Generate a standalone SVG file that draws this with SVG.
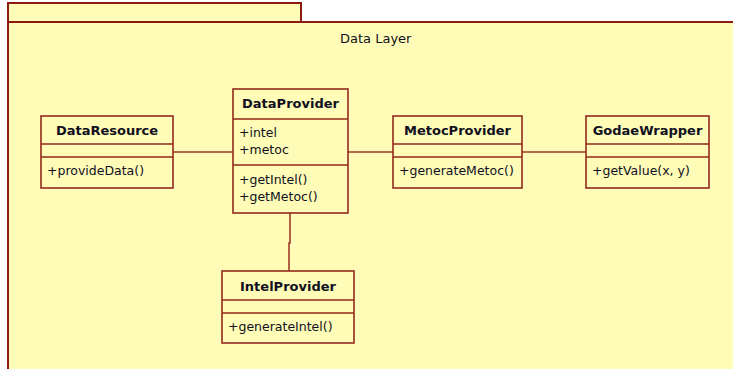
<svg xmlns="http://www.w3.org/2000/svg" width="733" height="369" viewBox="0 0 733 369">
  <style>
    .pkg { fill: #FFFCB8; stroke: #8B1A10; stroke-width: 2; }
    .box { fill: #FFFCB8; stroke: #93291C; stroke-width: 1.6; }
    .sep { stroke: #93291C; stroke-width: 1.6; }
    .conn { fill: none; stroke: #A03A2A; stroke-width: 1.6; }
    .name { font-family: "DejaVu Sans", Verdana, sans-serif; font-size: 13px; font-weight: bold; fill: #101020; text-anchor: middle; }
    .member { font-family: "DejaVu Sans", Verdana, sans-serif; font-size: 12.5px; fill: #101020; }
    .title { font-family: "DejaVu Sans", Verdana, sans-serif; font-size: 13px; fill: #101020; }
  </style>

  <!-- package frame -->
  <g id="package-data-layer">
    <rect class="pkg" x="8" y="3" width="293" height="19"/>
    <rect class="pkg" x="8" y="22" width="740" height="360"/>
    <text class="title" x="340" y="43">Data Layer</text>
  </g>

  <!-- associations -->
  <g id="connectors">
    <line class="conn" x1="173" y1="152" x2="233" y2="152"/>
    <line class="conn" x1="348" y1="152" x2="393" y2="152"/>
    <line class="conn" x1="522" y1="152" x2="586" y2="152"/>
    <path class="conn" d="M290 213 V243 H289 V271"/>
  </g>

  <g id="DataResource">
    <rect class="box" x="41" y="116" width="132" height="72"/>
    <line class="sep" x1="41" y1="144" x2="173" y2="144"/>
    <line class="sep" x1="41" y1="157" x2="173" y2="157"/>
    <text class="name" x="107" y="135">DataResource</text>
    <text class="member" x="47" y="175">+provideData()</text>
  </g>

  <g id="DataProvider">
    <rect class="box" x="233" y="89" width="115" height="124"/>
    <line class="sep" x1="233" y1="119" x2="348" y2="119"/>
    <line class="sep" x1="233" y1="165" x2="348" y2="165"/>
    <text class="name" x="290.5" y="108">DataProvider</text>
    <text class="member" x="239" y="137">+intel</text>
    <text class="member" x="239" y="154">+metoc</text>
    <text class="member" x="239" y="184">+getIntel()</text>
    <text class="member" x="239" y="201">+getMetoc()</text>
  </g>

  <g id="MetocProvider">
    <rect class="box" x="393" y="116" width="129" height="72"/>
    <line class="sep" x1="393" y1="144" x2="522" y2="144"/>
    <line class="sep" x1="393" y1="157" x2="522" y2="157"/>
    <text class="name" x="457.5" y="135">MetocProvider</text>
    <text class="member" x="399" y="175">+generateMetoc()</text>
  </g>

  <g id="GodaeWrapper">
    <rect class="box" x="586" y="116" width="123" height="72"/>
    <line class="sep" x1="586" y1="144" x2="709" y2="144"/>
    <line class="sep" x1="586" y1="157" x2="709" y2="157"/>
    <text class="name" x="647.5" y="135">GodaeWrapper</text>
    <text class="member" x="592" y="175">+getValue(x, y)</text>
  </g>

  <g id="IntelProvider">
    <rect class="box" x="222" y="271" width="132" height="72"/>
    <line class="sep" x1="222" y1="300" x2="354" y2="300"/>
    <line class="sep" x1="222" y1="313" x2="354" y2="313"/>
    <text class="name" x="288" y="291">IntelProvider</text>
    <text class="member" x="228" y="331">+generateIntel()</text>
  </g>
</svg>
